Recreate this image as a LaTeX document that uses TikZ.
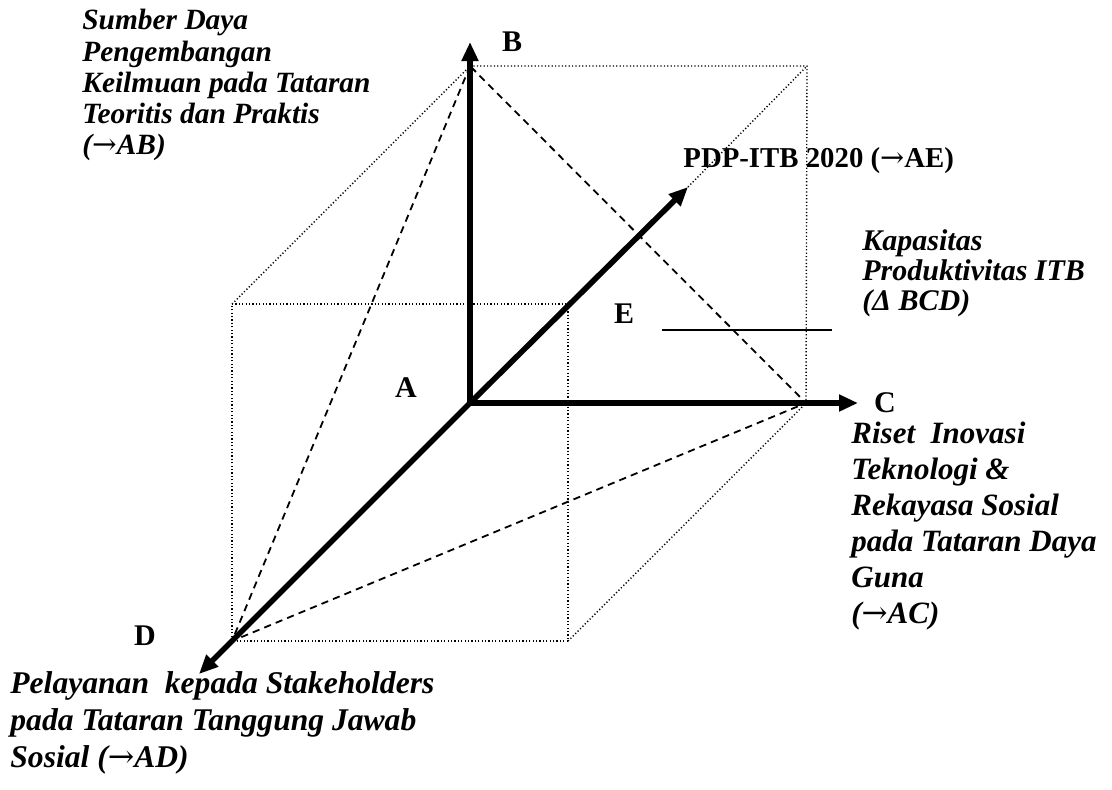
\documentclass[tikz,border=0pt]{standalone}
\usepackage{fontspec}
\setmainfont{Liberation Serif}
\newfontfamily\arrowfont{DejaVu Serif}
\usetikzlibrary{arrows.meta}
\newcommand{\ar}{{\arrowfont\mdseries\upshape →}}
\begin{document}
\begin{tikzpicture}[x=0.5pt,y=-0.5pt,
  axis/.style={line width=2.8pt,-{Triangle[length=9.5pt,width=8pt]}},
  dotline/.style={line width=0.7pt,dash pattern=on 0.6pt off 1.1pt},
  dashline/.style={line width=0.9pt,dash pattern=on 3.6pt off 2.6pt},
  thinline/.style={line width=0.7pt},
  lbl/.style={font=\fontsize{15}{15}\selectfont\bfseries,inner sep=0pt},
  desc/.style={font=\fontsize{14.7}{15.6}\selectfont\bfseries\itshape,align=left,anchor=north west,inner sep=0pt},
]
\useasboundingbox (0,0) rectangle (1112,789);
% points
\coordinate (A) at (470,403);
\coordinate (B) at (470,66);
\coordinate (C) at (806,403);
\coordinate (D) at (232,641);
\coordinate (Bt) at (470,42);
\coordinate (Ct) at (858,403);
\coordinate (Dt) at (199,674);
\coordinate (Et) at (688,187);
\coordinate (F1) at (232,304);
\coordinate (F2) at (568,304);
\coordinate (F3) at (568,641);
\coordinate (G) at (807,66);
\coordinate (H1) at (662,330);
\coordinate (H2) at (832,330);
% dotted cube
\draw[dotline] (F1) -- (B) -- (G) -- (C);
\draw[dotline] (F1) -- (F2) -- (F3) -- (D) -- cycle;
\draw[dotline] (F3) -- (C);
\draw[dotline] (Et) -- (G);
% dashed triangle BCD
\draw[dashline] (B) -- (D) -- (C) -- cycle;
% thin line
\draw[thinline] (H1) -- (H2);
% axes
\draw[axis] (A) -- (Bt);
\draw[axis] (A) -- (Ct);
\draw[axis] (A) -- (Dt);
\draw[axis] (A) -- (Et);
% labels
\node[lbl] (lB) at (512,42) {B};
\node[lbl] (lA) at (406,388) {A};
\node[lbl] (lC) at (885,403) {C};
\node[lbl] (lD) at (145,636) {D};
\node[lbl] (lE) at (624,314) {E};
\node[lbl,font=\fontsize{14.4}{15}\selectfont\bfseries,anchor=base west] (lAE) at (683,167) {PDP-ITB 2020 (\ar AE)};
% descriptions
\node[desc] (tAB) at (82,9) {Sumber Daya\\Pengembangan\\Keilmuan pada Tataran\\Teoritis dan Praktis\\(\ar AB)};
\node[desc,font=\fontsize{15}{15}\selectfont\bfseries\itshape] (tBCD) at (862,229) {Kapasitas\\Produktivitas ITB\\(Δ BCD)};
\node[desc,font=\fontsize{15.5}{18}\selectfont\bfseries\itshape] (tAC) at (851,422) {Riset~ Inovasi\\Teknologi \&\\Rekayasa Sosial\\pada Tataran Daya\\Guna\\(\ar AC)};
\node[desc,font=\fontsize{15.8}{18.5}\selectfont\bfseries\itshape] (tAD) at (10,671) {Pelayanan~ kepada Stakeholders\\pada Tataran Tanggung Jawab\\Sosial (\ar AD)};
\end{tikzpicture}
\end{document}
